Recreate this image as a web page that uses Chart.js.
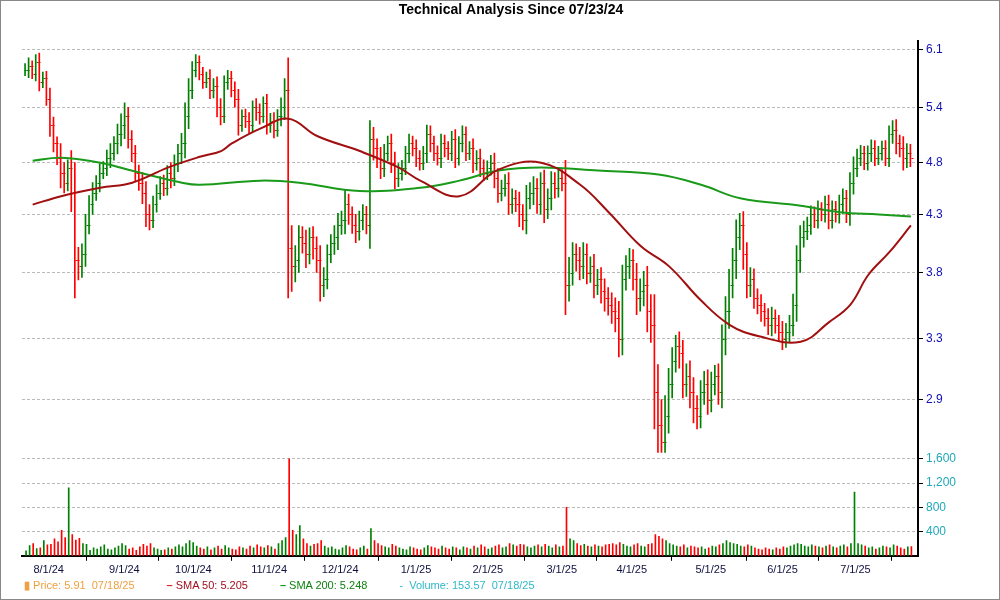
<!DOCTYPE html>
<html><head><meta charset="utf-8">
<script src="https://cdn.jsdelivr.net/npm/chart.js@4/dist/chart.umd.min.js"></script>
<style>
body{margin:0;background:#fff;font-family:Arial,"Liberation Sans",sans-serif}
#wrap{position:relative;width:1000px;height:600px;box-sizing:border-box;border:1px solid #888;overflow:hidden}
#c{position:absolute;left:-1px;top:-1px}
#leg{position:absolute;left:23px;top:578px;font-size:11px;white-space:nowrap}
#leg span{margin-right:32px}
</style></head><body>
<div id="wrap"><canvas id="c" width="1000" height="600"></canvas>
<div id="leg"><span style="color:#f0a040"><b>&#9646;</b> Price: 5.91 &nbsp;07/18/25</span><span style="color:#a01020"><b style="color:#e02020">&#8211;</b> SMA 50: 5.205</span><span style="color:#108010"><b style="color:#10a010">&#8211;</b> SMA 200: 5.248</span><span style="color:#30b8c8">- &nbsp;Volume: 153.57 &nbsp;07/18/25</span></div></div>
<script>
const closes=[5.85,5.9,5.8,5.95,5.7,5.75,5.5,
5.2,5.0,4.85,4.7,4.6,4.75,
4.5,3.9,3.85,3.95,4.2,
4.4,4.5,4.6,4.7,4.75,4.85,4.9,5.0,5.1,
5.2,5.3,5.05,4.9,4.7,
4.6,4.5,4.3,4.25,4.4,4.5,
4.6,4.55,4.7,4.65,4.8,4.9,5.0,5.3,5.6,
5.85,5.95,5.8,5.7,5.75,5.6,5.65,5.4,5.3,
5.7,5.75,5.6,5.5,5.2,5.3,5.25,5.2,5.4,5.35,5.3,
5.45,5.2,5.25,5.15,5.3,5.4,5.6,
4.0,3.85,3.9,4.1,4.05,3.95,4.1,
4.0,3.9,3.7,3.75,3.95,4.05,4.1,4.2,
4.25,4.4,4.3,4.2,4.15,4.25,4.3,4.2,
5.05,4.95,4.85,4.75,4.9,5.0,4.8,4.65,
4.7,4.75,4.9,5.0,4.95,4.85,4.8,4.9,
5.1,5.0,4.9,4.85,5.0,4.95,4.9,5.05,4.85,5.0,
5.1,4.9,4.95,4.8,4.85,4.75,4.7,4.75,4.8,
4.65,4.5,4.55,4.6,4.4,4.45,4.4,4.3,4.25,
4.45,4.5,4.55,4.4,4.6,4.35,4.45,4.6,4.55,4.65,4.6,
3.7,3.8,3.95,3.9,3.85,3.95,3.8,3.85,3.7,
3.75,3.65,3.6,3.55,3.5,3.45,3.3,3.75,3.85,
3.9,3.75,3.6,3.65,3.7,3.5,3.4,
2.95,2.75,2.65,2.8,3.0,3.15,
3.25,3.2,3.0,3.05,2.95,2.85,
2.8,2.95,3.0,2.9,3.0,3.05,2.95,3.3,3.5,
3.7,3.9,4.1,4.2,3.95,3.7,3.75,3.6,
3.55,3.5,3.45,3.4,3.45,3.4,3.35,3.3,3.35,
3.4,3.55,3.9,4.1,4.15,4.2,4.3,4.25,
4.35,4.3,4.4,4.25,4.35,4.3,4.4,4.45,4.3,4.6,
4.75,4.85,4.9,4.8,4.9,4.95,4.85,4.9,
4.95,4.85,5.1,5.15,5.0,4.95,4.85,4.9,4.85];
const ranges=[15,20,12,18,22,14,16,
25,18,14,30,20,16,
35,60,22,18,20,
15,20,14,18,12,16,20,15,22,
25,30,20,18,16,
15,20,22,18,14,16,
12,15,14,20,16,18,22,30,28,
20,18,15,16,14,20,18,22,20,
15,18,16,20,22,14,16,18,15,20,18,
14,20,16,18,15,22,28,
80,40,25,20,18,22,16,
18,20,25,18,16,14,20,22,
16,25,18,14,20,16,18,15,
40,25,20,22,18,16,20,22,
18,15,14,20,16,18,15,14,
20,18,16,15,20,18,14,16,20,15,
18,16,14,20,15,18,16,14,15,
20,18,15,16,20,18,15,22,18,
25,20,22,18,20,25,18,22,20,18,16,
45,25,20,18,22,20,18,16,20,
15,18,20,16,18,20,25,22,18,
20,18,25,20,22,30,25,
45,35,30,25,20,18,
15,20,18,16,20,18,
15,14,16,18,15,14,16,20,22,
25,20,30,22,25,20,18,16,
14,15,12,14,16,12,14,15,12,
14,16,25,20,18,15,16,14,
15,12,14,16,15,14,16,18,15,20,
22,18,16,14,15,18,16,14,
15,16,18,20,22,18,25,20,18];
const volumes=[80,170,200,120,130,250,180,
190,280,230,420,300,1120,
350,260,290,200,190,
90,130,110,150,180,110,100,130,160,
200,170,110,130,90,
150,190,160,200,130,110,
90,100,130,110,150,180,150,200,250,
220,160,130,110,150,100,130,160,110,
170,130,110,100,150,130,110,160,130,180,150,
130,170,150,110,200,250,300,
1600,420,350,500,280,200,160,
190,200,250,160,130,150,110,100,
130,170,150,110,100,130,160,110,
450,250,200,170,150,130,190,160,
130,110,100,150,130,110,100,130,
170,150,130,110,160,130,110,150,130,100,
150,130,110,160,130,180,150,110,130,
160,180,130,150,200,180,160,190,180,
150,130,160,180,150,190,160,130,180,150,160,
800,280,250,200,170,190,160,150,180,
160,150,180,190,200,180,220,190,160,
150,180,200,160,150,190,200,
350,320,280,250,200,180,
160,150,180,130,160,150,
130,150,110,130,160,150,180,200,250,
220,200,190,160,150,180,160,130,
110,100,130,110,100,130,110,150,130,
160,180,200,190,160,150,180,160,
150,130,160,180,150,130,160,180,150,200,
1050,200,180,160,130,150,110,130,
160,150,130,180,160,130,110,150,154];
const sma50=[[2,4.39],[10,4.47],[21,4.55],[30,4.6],[40,4.75],[49,4.86],[55,4.92],[58,5.0],[66,5.16],[74,5.27],[82,5.08],[94,4.92],[105,4.75],[111,4.62],[122,4.47],[133,4.73],[145,4.80],[156,4.58],[164,4.32],[173,4.02],[181,3.85],[190,3.58],[198,3.40],[206,3.32],[218,3.28],[226,3.42],[232,3.55],[237,3.78],[243,3.97],[249,4.2]];
const sma200=[[2,4.82],[10,4.85],[21,4.8],[32,4.7],[44,4.6],[49,4.58],[66,4.62],[77,4.6],[94,4.52],[111,4.55],[122,4.62],[133,4.72],[145,4.75],[161,4.72],[178,4.68],[190,4.58],[201,4.45],[218,4.38],[229,4.32],[240,4.3],[249,4.28]];
const monthTicks=[6.5,27.8,47.2,68.5,88.5,109.8,130,150.8,170.5,192.7,212.9,233.4];
const monthLabels=['8/1/24','9/1/24','10/1/24','11/1/24','12/1/24','1/1/25','2/1/25','3/1/25','4/1/25','5/1/25','6/1/25','7/1/25'];
const priceTicks=[2.9,3.3,3.8,4.3,4.8,5.4,6.1];
const volTicks=[400,800,1200,1600];

const opens=closes.map((c,i)=>i?closes[i-1]:c);
const up=closes.map((c,i)=>c>=opens[i]);
const G='#008000',R='#ff0000';
const hl=closes.map((c,i)=>{const r=ranges[i]/100;return {x:i,y:[Math.min(c,opens[i])-r/2,Math.max(c,opens[i])+r/2]};});
const ocPlugin={id:'oc',afterDatasetsDraw(ch){const x=ch.scales.x,y=ch.scales.y,ctx=ch.ctx;ctx.save();ctx.lineWidth=1;
closes.forEach((c,i)=>{const px=Math.round(x.getPixelForValue(i))+0.5;ctx.strokeStyle=up[i]?G:R;ctx.beginPath();
let po=Math.round(y.getPixelForValue(opens[i]))+0.5,pc=Math.round(y.getPixelForValue(c))+0.5;
ctx.moveTo(px-2,po);ctx.lineTo(px,po);ctx.moveTo(px,pc);ctx.lineTo(px+2,pc);ctx.stroke();});
ctx.restore();}};
const fitW=s=>{s.width=82;};
const dashGrid={color:'#bbb',tickLength:5,tickColor:'#000',tickWidth:1};
new Chart(document.getElementById('c'),{
 data:{datasets:[
  {type:'line',data:sma50.map(p=>({x:p[0],y:p[1]})),borderColor:'#a01010',borderWidth:2,pointRadius:0,tension:0.4,yAxisID:'y'},
  {type:'line',data:sma200.map(p=>({x:p[0],y:p[1]})),borderColor:'#1a9a1a',borderWidth:2,pointRadius:0,tension:0.4,yAxisID:'y'},
  {type:'bar',data:hl,backgroundColor:up.map(u=>u?G:R),barThickness:1,yAxisID:'y'},
  {type:'bar',data:volumes.map((v,i)=>({x:i,y:v})),backgroundColor:up.map(u=>u?G:R),barThickness:1,yAxisID:'yv'}
 ]},
 options:{responsive:false,animation:false,
  layout:{padding:{left:22,right:0,top:0,bottom:20}},
  plugins:{legend:{display:false},tooltip:{enabled:false},
   title:{display:true,text:'Technical Analysis Since 07/23/24',font:{size:14,weight:'bold',family:'Arial'},color:'#000',padding:{top:2,bottom:22}}},
  scales:{
   x:{type:'linear',min:-1,max:251,offset:false,
    afterBuildTicks:s=>{s.ticks=monthTicks.map(v=>({value:v}));},
    ticks:{callback:(v)=>monthLabels[monthTicks.indexOf(v)],color:'#101040',font:{size:11},maxRotation:0,autoSkip:false},
    grid:{display:true,drawOnChartArea:false,tickLength:5,tickColor:'#000'},border:{color:'#000',width:2}},
   y:{type:'logarithmic',position:'right',min:2.59,max:6.22,stack:'s',stackWeight:4,afterFit:fitW,
    afterBuildTicks:s=>{s.ticks=priceTicks.map(v=>({value:v}));},
    ticks:{callback:v=>v.toFixed(1),color:'#1010b0',font:{size:12},autoSkip:false},
    grid:dashGrid,border:{color:'#000',width:2,dash:[3,2]}},
   yv:{type:'linear',position:'right',min:0,max:1700,stack:'s',stackWeight:1,afterFit:fitW,
    afterBuildTicks:s=>{s.ticks=volTicks.map(v=>({value:v}));},
    ticks:{callback:v=>v.toLocaleString('en-US'),color:'#20a8b8',font:{size:12},autoSkip:false},
    grid:dashGrid,border:{color:'#000',width:2,dash:[3,2]}}
  }},
 plugins:[ocPlugin]
});
</script></body></html>
